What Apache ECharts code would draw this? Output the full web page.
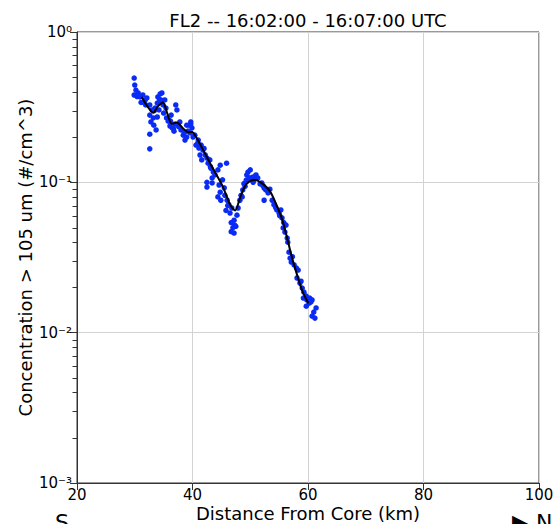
<!DOCTYPE html>
<html>
<head>
<meta charset="utf-8">
<script src="https://cdn.jsdelivr.net/npm/echarts@6/dist/echarts.min.js"></script>
<style>
html,body{margin:0;padding:0;background:#fff;}
#c{width:556px;height:524px;}
</style>
</head>
<body>
<div id="c"></div>
<script>
// ---- data ----
var titleText = 'FL2 -- 16:02:00 - 16:07:00 UTC';
var xName = 'Distance From Core (km)';
var yName = 'Concentration > 105 um (#/cm^3)';
var xTicks = [20, 40, 60, 80, 100];
var yTicks = [0.001, 0.01, 0.1, 1];

var scatterX = [29.9,30.0,30.2,29.9,30.6,30.9,31.4,31.8,32.1,31.9,32.6,33.0,32.6,33.2,32.8,33.5,33.9,34.0,34.4,34.7,34.5,34.9,34.2,33.9,33.3,33.7,32.6,32.6,
35.2,35.4,35.0,35.5,35.9,36.3,36.1,36.5,37.0,37.1,37.3,37.5,37.8,38.0,36.8,38.4,38.7,39.0,39.4,39.7,39.9,39.2,
39.0,39.7,39.6,40.4,41.0,40.6,41.1,41.5,41.8,41.3,42.2,42.5,41.6,42.7,43.0,43.2,43.6,43.9,43.4,44.4,44.8,45.9,
42.5,42.5,43.4,44.6,44.8,44.4,44.9,45.5,45.6,46.0,45.8,46.3,46.5,46.8,47.2,46.7,47.0,46.7,47.2,47.5,47.7,47.9,
48.2,48.4,48.7,49.1,49.3,49.4,49.6,50.0,49.8,50.3,50.8,51.3,50.5,51.7,52.0,52.4,52.7,52.4,53.1,53.4,53.8,54.1,
54.6,55.0,55.3,55.5,55.8,56.2,55.7,56.0,56.4,56.7,56.9,57.1,57.6,58.0,58.3,58.1,58.6,59.0,59.3,59.2,59.7,59.8,
60.2,59.7,60.3,60.7,61.4,61.0,60.7,61.2,36.2,37.6,34.6,31.1,40.1,48.9,50.6,53.0,54.4,57.3,
30.4,31.6,33.4,34.3,35.8,36.7,38.6,40.9,42.0,43.1,45.2,46.1,47.3,48.6,51.0,52.2,55.1,56.5,58.8,60.5];
var scatterY = [0.494,0.444,0.411,0.381,0.393,0.370,0.381,0.353,0.364,0.327,0.327,0.303,0.280,0.268,0.252,0.312,0.337,0.370,0.387,0.393,0.353,0.327,0.303,0.272,0.240,0.223,0.209,0.167,
0.353,0.312,0.289,0.268,0.260,0.280,0.237,0.230,0.244,0.327,0.303,0.240,0.252,0.223,0.219,0.206,0.191,0.200,0.240,0.252,0.230,0.219,
0.240,0.244,0.213,0.206,0.191,0.177,0.169,0.177,0.164,0.152,0.152,0.145,0.141,0.134,0.141,0.124,0.117,0.112,0.107,0.121,0.130,0.134,
0.100,0.093,0.099,0.096,0.086,0.080,0.076,0.092,0.082,0.076,0.065,0.071,0.0625,0.0675,0.056,0.054,0.050,0.047,0.046,0.051,0.0605,0.0675,
0.076,0.082,0.089,0.094,0.1035,0.112,0.117,0.121,0.107,0.108,0.110,0.107,0.100,0.0975,0.099,0.0916,0.089,0.076,0.085,0.090,0.076,0.071,
0.0655,0.0625,0.0655,0.058,0.054,0.052,0.0497,0.0467,0.0426,0.0343,0.0313,0.0295,0.0282,0.0269,0.0261,0.0231,0.0214,0.0198,0.0186,0.0170,0.0175,0.0165,
0.0157,0.0150,0.0170,0.0165,0.0146,0.0137,0.0129,0.0125,0.255,0.235,0.345,0.340,0.200,0.098,0.104,0.088,0.068,0.032,
0.372,0.340,0.300,0.355,0.255,0.228,0.215,0.182,0.168,0.127,0.104,0.070,0.052,0.080,0.112,0.095,0.060,0.040,0.022,0.016];

var lineX = [31.2,32.2,33.2,34.0,34.9,35.6,36.4,37.3,38.3,39.3,39.9,40.8,42.0,43.0,44.0,45.0,45.8,46.6,47.4,48.2,49.0,49.8,50.8,51.8,52.8,53.6,54.6,55.5,56.3,57.1,58.0,59.0,60.05];
var lineY = [0.37,0.32,0.29,0.32,0.34,0.29,0.245,0.25,0.23,0.215,0.217,0.195,0.16,0.135,0.115,0.098,0.083,0.07,0.065,0.078,0.093,0.101,0.1035,0.1,0.093,0.085,0.07,0.057,0.044,0.033,0.025,0.019,0.0157];

// ---- build ----
var scatterData = scatterX.map(function (x, i) { return [x, scatterY[i]]; });
var lineData = lineX.map(function (x, i) { return [x, lineY[i]]; });
var supMap = {'0':'⁰','1':'¹','2':'²','3':'³','4':'⁴','5':'⁵','6':'⁶','7':'⁷','8':'⁸','9':'⁹','-':'⁻'};
function sup(n) { return String(n).split('').map(function (c) { return supMap[c]; }).join(''); }

var FONT = 'DejaVu Sans';
var chart = echarts.init(document.getElementById('c'), null, {renderer: 'svg'});
var option = {
  backgroundColor: '#ffffff',
  animation: false,
  textStyle: {fontFamily: FONT},
  grid: {left: 77, right: 17, top: 32, bottom: 41, show: true, borderColor: '#333', borderWidth: 1,
         containLabel: false, outerBoundsMode: 'none'},
  xAxis: {
    type: 'value', min: xTicks[0], max: xTicks[xTicks.length - 1], interval: 20,
    name: xName, nameLocation: 'middle', nameGap: 21, nameMoveOverlap: false,
    nameTextStyle: {fontSize: 18, color: '#000', fontFamily: FONT},
    axisLine: {show: true, lineStyle: {color: '#333', width: 1}},
    axisTick: {show: true, inside: false, length: 7, lineStyle: {color: '#333'}},
    axisLabel: {fontSize: 15, color: '#000', margin: 4, fontFamily: FONT},
    splitLine: {show: true, lineStyle: {color: '#d3d3d3', width: 1}}
  },
  yAxis: {
    type: 'log', logBase: 10, min: yTicks[0], max: yTicks[yTicks.length - 1],
    name: yName, nameLocation: 'middle', nameGap: 43, nameMoveOverlap: false,
    nameTextStyle: {fontSize: 18, color: '#000', fontFamily: FONT},
    axisLine: {show: true, lineStyle: {color: '#333', width: 1}},
    axisTick: {show: true, inside: false, length: 7, lineStyle: {color: '#333'}},
    axisLabel: {fontSize: 15, color: '#000', margin: 5, fontFamily: FONT,
      formatter: function (v) { return '10' + sup(Math.round(Math.log10(v))); }},
    splitLine: {show: true, lineStyle: {color: '#d3d3d3', width: 1}}
  },
  series: [
    {type: 'scatter', data: scatterData, symbol: 'circle', symbolSize: 5.5,
     itemStyle: {color: '#0a2af5', opacity: 1}, z: 2},
    {type: 'line', data: lineData, smooth: 0.25, symbol: 'none',
     lineStyle: {color: '#000', width: 2}, z: 3}
  ]
};
chart.setOption(option);

// minor ticks on the log axis + text annotations, positioned via the axis scale
var g = [];
var px0 = chart.convertToPixel({xAxisIndex: 0}, xTicks[0]);
for (var k = -3; k < 0; k++) {
  for (var m = 2; m <= 9; m++) {
    var v = m * Math.pow(10, k);
    var py = chart.convertToPixel({yAxisIndex: 0}, v);
    g.push({type: 'line', shape: {x1: px0 - 4.5, y1: Math.round(py) + 0.5, x2: px0, y2: Math.round(py) + 0.5},
            style: {stroke: '#333', lineWidth: 1}, silent: true});
  }
}
var cx = (px0 + chart.convertToPixel({xAxisIndex: 0}, xTicks[xTicks.length - 1])) / 2;
g.push({type: 'text', x: cx, y: 11, style: {text: titleText, font: '18px "DejaVu Sans"', fill: '#000', textAlign: 'center', textVerticalAlign: 'top'}});
g.push({type: 'text', x: 55, y: 511, style: {text: 'S', font: '22px "DejaVu Sans"', fill: '#000', textVerticalAlign: 'top'}});
g.push({type: 'text', x: 512, y: 511, style: {text: '▶ N', font: '22px "DejaVu Sans"', fill: '#000', textVerticalAlign: 'top'}});
chart.setOption({graphic: g});
</script>
</body>
</html>
